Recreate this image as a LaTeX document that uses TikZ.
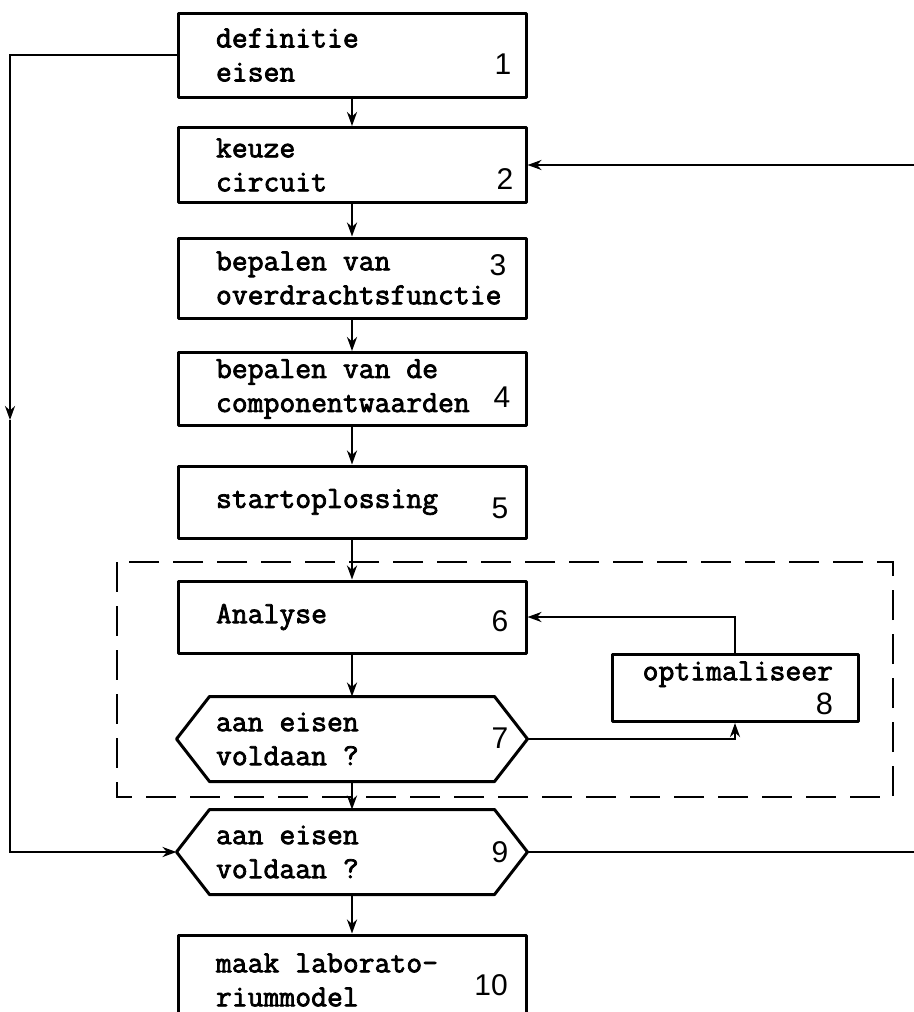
\documentclass[tikz,border=0pt]{standalone}
\usepackage{fontspec}
\setmonofont{Latin Modern Mono}[FakeBold=2.5]
\newfontfamily\cijfer{Liberation Sans}
\usetikzlibrary{arrows.meta}
\newcommand{\zeshoek}[1]{\draw[rand] (#1.west) -- ([xshift=16.5pt]#1.north west) -- ([xshift=-16.5pt]#1.north east) -- (#1.east) -- ([xshift=-16.5pt]#1.south east) -- ([xshift=16.5pt]#1.south west) -- cycle;}
\tikzset{
  rand/.style={line width=1.5pt, line join=round},
  blok/.style={rand, draw, minimum width=174pt, text width=136pt, inner xsep=19pt, align=flush left,
    font=\ttfamily\fontsize{15.4}{17}\selectfont},
  vraag/.style={blok, draw=none},
  nr/.style={font=\cijfer\fontsize{15}{15}\selectfont, inner sep=0pt},
  lijn/.style={line width=1.2pt},
  kader/.style={line width=1.4pt, dash pattern=on 15pt off 7pt}
}
\begin{document}
\begin{tikzpicture}[x=0.5pt, y=-0.5pt, >={Stealth[length=7pt,width=5pt]}]
\useasboundingbox (0,0) rectangle (914,1012);
% blokken
\node[blok, minimum height=42pt] (b1) at (352,55) {definitie\\eisen};
\node[blok, minimum height=37.5pt] (b2) at (352,165) {keuze\\circuit};
\node[blok, minimum height=40pt] (b3) at (352,278) {bepalen van\\overdrachtsfunctie};
\node[blok, minimum height=36pt] (b4) at (352,389) {bepalen van de\\componentwaarden};
\node[blok, minimum height=36pt] (b5) at (352,502) {startoplossing};
\node[blok, minimum height=36pt] (b6) at (352,617) {Analyse};
\node[vraag, minimum height=41pt] (h7) at (352,739) {aan eisen\\voldaan ?};
\node[blok, minimum width=123pt, text width=98pt, inner xsep=12.5pt, align=flush right,
  minimum height=33.5pt] (b8) at (735,688) {optimaliseer\\{\cijfer 8}};
\node[vraag, minimum height=41pt] (h9) at (352,852) {aan eisen\\voldaan ?};
\node[blok, minimum height=45pt] (b10) at (352,980) {maak laborato-\\riummodel};
\zeshoek{h7}
\zeshoek{h9}
% nummers
\node[nr] (n1) at (503,64) {1};
\node[nr] (n2) at (505,179) {2};
\node[nr] (n3) at (498,265) {3};
\node[nr] (n4) at (502,397) {4};
\node[nr] (n5) at (500,508) {5};
\node[nr] (n6) at (500,621) {6};
\node[nr] (n7) at (500,738) {7};
\node[nr] (n9) at (500,852) {9};
\node[nr] (n10) at (491,985) {10};
% verbindingen
\coordinate (links) at (10,420);
\coordinate (r2) at (914,165);
\coordinate (r9) at (914,852);
\draw[lijn,->] (b1.south) -- (b2.north);
\draw[lijn,->] (b2.south) -- (b3.north);
\draw[lijn,->] (b3.south) -- (b4.north);
\draw[lijn,->] (b4.south) -- (b5.north);
\draw[lijn,->] (b5.south) -- (b6.north);
\draw[lijn,->] (b6.south) -- (h7.north);
\draw[lijn,->] (h7.south) -- (h9.north);
\draw[lijn,->] (h9.south) -- (b10.north);
\draw[lijn,->] (h7.east) -| (b8.south);
\draw[lijn,->] (b8.north) |- (b6.east);
\draw[lijn,->] (b1.west) -| (links);
\draw[lijn,->] (links) |- (h9.west);
\draw[lijn,->] (r2) -- (b2.east);
\draw[lijn] (h9.east) -- (r9);
% kader om de iteratielus
\draw[kader] (117,562) rectangle (893,797);
\end{tikzpicture}
\end{document}
